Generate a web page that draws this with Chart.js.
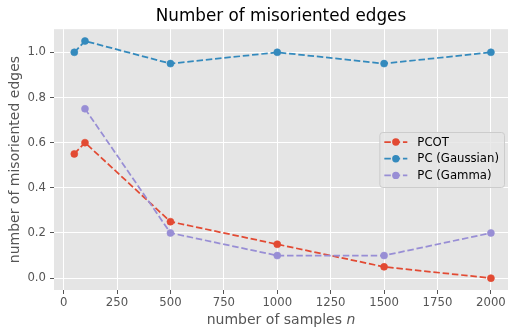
<!DOCTYPE html>
<html>
<head>
<meta charset="utf-8">
<script src="https://cdn.jsdelivr.net/npm/chart.js@4.4.1/dist/chart.umd.min.js"></script>
<style>
html, body { margin: 0; padding: 0; background: #fff; }
#wrap { width: 508px; height: 333px; }
</style>
</head>
<body>
<div id="wrap"><canvas id="misChart" width="508" height="333"></canvas></div>
<script>
// data
var samplesN = [50, 100, 500, 1000, 1500, 2000];
var pcotVals = [0.55, 0.60, 0.25, 0.15, 0.05, 0.00];
var gaussVals = [1.00, 1.05, 0.95, 1.00, 0.95, 1.00];
var gammaVals = [null, 0.75, 0.20, 0.10, 0.10, 0.20];
var seriesNames = ['PCOT', 'PC (Gaussian)', 'PC (Gamma)'];
var seriesColors = ['#E24A33', '#348ABD', '#988ED5'];
var xTicks = [0, 250, 500, 750, 1000, 1250, 1500, 1750, 2000];
var yTicks = [0.0, 0.2, 0.4, 0.6, 0.8, 1.0];

var FONT = "'DejaVu Sans', 'Liberation Sans', sans-serif";

function toPoints(vals) {
    return samplesN.map(function (n, i) { return { x: n, y: vals[i] }; });
}

function makeSet(idx, vals) {
    return {
        label: seriesNames[idx],
        data: toPoints(vals),
        borderColor: seriesColors[idx],
        backgroundColor: seriesColors[idx],
        borderWidth: 1.75,
        borderDash: [6.5, 2.8],
        pointRadius: 3.5,
        pointBorderWidth: 0.6,
        pointHoverRadius: 3.5,
        spanGaps: false,
        order: 3 - idx  // later series on top, like matplotlib
    };
}

// grey panel behind the plot
var panelBg = {
    id: 'panelBg',
    beforeDraw: function (chart) {
        var a = chart.chartArea, c = chart.ctx;
        c.save();
        c.fillStyle = '#E5E5E5';
        c.fillRect(a.left, a.top, a.right - a.left, a.bottom - a.top);
        c.restore();
    }
};

// x axis label with italic n
var xLabel = {
    id: 'xLabel',
    afterDraw: function (chart) {
        var c = chart.ctx, a = chart.chartArea;
        var part1 = 'number of samples ', part2 = 'n';
        c.save();
        c.fillStyle = '#555555';
        c.textBaseline = 'middle';
        c.font = '14px ' + FONT;
        var w1 = c.measureText(part1).width;
        c.font = 'italic 14px ' + FONT;
        var w2 = c.measureText(part2).width;
        var x0 = (a.left + a.right) / 2 - (w1 + w2) / 2;
        var y = 320;
        c.font = '14px ' + FONT;
        c.fillText(part1, x0, y);
        c.font = 'italic 14px ' + FONT;
        c.fillText(part2, x0 + w1, y);
        c.restore();
    }
};

// legend box at center right of the plot
var boxLegend = {
    id: 'boxLegend',
    afterDraw: function (chart) {
        var c = chart.ctx, a = chart.chartArea;
        c.save();
        c.font = '11.7px ' + FONT;
        var maxW = 0;
        seriesNames.forEach(function (s) { maxW = Math.max(maxW, c.measureText(s).width); });
        var boxW = 38 + maxW + 5;
        var boxH = 55;
        var bx = a.right - 4 - boxW, by = 132;
        c.beginPath();
        c.roundRect(bx + 0.5, by + 0.5, boxW, boxH, 3);
        c.fillStyle = 'rgba(229,229,229,0.8)';
        c.fill();
        c.strokeStyle = '#CCCCCC';
        c.lineWidth = 1;
        c.stroke();
        seriesNames.forEach(function (s, i) {
            var y = by + 10 + i * 16.7;
            c.strokeStyle = seriesColors[i];
            c.fillStyle = seriesColors[i];
            c.lineWidth = 1.75;
            c.setLineDash([6.5, 2.8]);
            c.beginPath();
            c.moveTo(bx + 5, y);
            c.lineTo(bx + 28, y);
            c.stroke();
            c.setLineDash([]);
            c.beginPath();
            c.arc(bx + 16.5, y, 3.7, 0, Math.PI * 2);
            c.fill();
            c.fillStyle = '#000';
            c.textBaseline = 'middle';
            c.fillText(s, bx + 38, y + 0.5);
        });
        c.restore();
    }
};

var ctx = document.getElementById('misChart').getContext('2d');
var misChart = new Chart(ctx, {
    type: 'line',
    data: {
        datasets: [
            makeSet(0, pcotVals),
            makeSet(1, gaussVals),
            makeSet(2, gammaVals)
        ]
    },
    plugins: [panelBg, xLabel, boxLegend],
    options: {
        responsive: false,
        animation: false,
        devicePixelRatio: 1,
        layout: { autoPadding: false, padding: { left: 0, right: 0, top: 0, bottom: 0 } },
        plugins: {
            legend: { display: false },
            tooltip: { enabled: false },
            title: {
                display: true,
                fullSize: false,  // center over the plot, not the canvas
                text: 'Number of misoriented edges',
                color: '#000',
                font: { family: FONT, size: 16.8, weight: 'normal' },
                padding: { top: 7, bottom: 2 }
            }
        },
        scales: {
            x: {
                type: 'linear',
                min: -45,
                max: 2080,
                afterBuildTicks: function (scale) {
                    scale.ticks = xTicks.map(function (v) { return { value: v }; });
                },
                afterFit: function (scale) {
                    scale.height = 43;
                    scale.paddingLeft = 0;
                    scale.paddingRight = 0;
                },
                grid: { color: '#FFFFFF', lineWidth: 1, drawTicks: true, tickLength: 4, tickColor: '#555555', tickWidth: 1 },
                border: { display: false },
                ticks: {
                    color: '#555555',
                    padding: 2,
                    maxRotation: 0,
                    autoSkip: false,
                    font: { family: FONT, size: 11.7 },
                    callback: function (v) { return String(v); }
                }
            },
            y: {
                type: 'linear',
                min: -0.0525,
                max: 1.1025,
                afterBuildTicks: function (scale) {
                    scale.ticks = yTicks.map(function (v) { return { value: v }; });
                },
                afterFit: function (scale) {
                    scale.width = 54;
                    scale.paddingTop = 0;
                    scale.paddingBottom = 0;
                },
                grid: { color: '#FFFFFF', lineWidth: 1, drawTicks: true, tickLength: 4, tickColor: '#555555', tickWidth: 1 },
                border: { display: false },
                title: {
                    display: true,
                    text: 'number of misoriented edges',
                    color: '#555555',
                    font: { family: FONT, size: 14 },
                    padding: { top: 6.5, bottom: 0 }
                },
                ticks: {
                    color: '#555555',
                    padding: 4,
                    autoSkip: false,
                    font: { family: FONT, size: 11.7 },
                    callback: function (v) { return Number(v).toFixed(1); }
                }
            }
        }
    }
});
</script>
</body>
</html>
